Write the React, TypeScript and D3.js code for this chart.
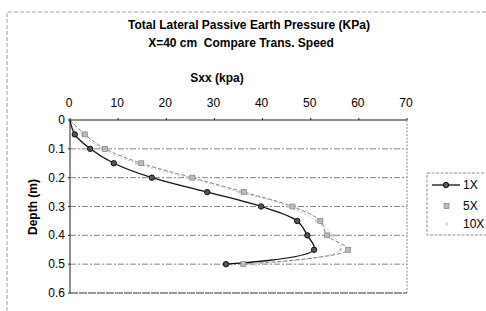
import * as d3 from 'd3';

const depths = [0, 0.05, 0.1, 0.15, 0.2, 0.25, 0.3, 0.35, 0.4, 0.45, 0.5];
const s1x = [0, 1.0, 4.2, 9.1, 17.0, 28.5, 39.7, 47.2, 49.3, 50.7, 32.4];
const s5x = [0, 3.1, 7.3, 14.8, 25.4, 36.1, 46.2, 52.0, 53.4, 57.8, 36.0];
const s10x = [0, 2.6, 6.6, 13.8, 24.6, 35.2, 45.4, 51.2, 54.6, 56.2, 38.5];
const xTicks = [0, 10, 20, 30, 40, 50, 60, 70];
const yTicks = [0, 0.1, 0.2, 0.3, 0.4, 0.5, 0.6];
const seriesNames = ['1X', '5X', '10X'];

const W = 486;
const H = 311;
const plot = { left: 70, right: 407, top: 120, bottom: 293 };

export default function App() {
  const x = d3.scaleLinear().domain([0, 70]).range([plot.left, plot.right]);
  const y = d3.scaleLinear().domain([0, 0.6]).range([plot.top, plot.bottom]);

  const line = d3.line<[number, number]>()
    .x(d => x(d[0]))
    .y(d => y(d[1]))
    .curve(d3.curveCatmullRom.alpha(0.5));

  const pts = (vals: number[]) => vals.map((v, i) => [v, depths[i]] as [number, number]);
  const font = '"Liberation Sans", Arial, sans-serif';

  return (
    <svg width={W} height={H} style={{ position: 'absolute', left: 0, top: 0, background: '#fff' }}
      fontFamily={font}>
      {/* outer chart frame */}
      <path d={`M7,${H} V12 H${W}`} fill="none" stroke="#888" strokeWidth={0.8} strokeDasharray="4 2" />

      <text x={249} y={29} textAnchor="middle" fontSize={12} fontWeight="bold">
        Total Lateral Passive Earth Pressure (KPa)
      </text>
      <text x={241} y={47} textAnchor="middle" fontSize={12} fontWeight="bold" xmlSpace="preserve">
        X=40 cm  Compare Trans. Speed
      </text>
      <text x={217} y={82} textAnchor="middle" fontSize={12} fontWeight="bold">Sxx (kpa)</text>
      <text transform="translate(37,207) rotate(-90)" textAnchor="middle" fontSize={12} fontWeight="bold">
        Depth (m)
      </text>

      {/* grid */}
      {yTicks.slice(1, -1).map(t => (
        <line key={t} x1={plot.left} x2={plot.right} y1={y(t)} y2={y(t)}
          stroke="#666" strokeWidth={0.8} strokeDasharray="6 2 2 2" />
      ))}
      <line x1={plot.right} x2={plot.right} y1={plot.top} y2={plot.bottom}
        stroke="#666" strokeWidth={0.8} strokeDasharray="2 1.5" />
      <line x1={plot.left} x2={plot.right} y1={plot.bottom} y2={plot.bottom}
        stroke="#333" strokeWidth={1} strokeDasharray="8 1" />

      {/* axes */}
      <line x1={plot.left} x2={plot.right} y1={plot.top} y2={plot.top} stroke="#222" strokeWidth={1} />
      <line x1={plot.left} x2={plot.left} y1={plot.top} y2={plot.bottom} stroke="#222" strokeWidth={1} />
      {xTicks.map(t => (
        <g key={t}>
          <line x1={x(t)} x2={x(t)} y1={plot.top} y2={plot.top - 2} stroke="#222" />
          <text x={x(t) - 1} y={107} textAnchor="middle" fontSize={12}>{t}</text>
        </g>
      ))}
      {yTicks.map(t => (
        <g key={t}>
          <line x1={plot.left} x2={plot.left - 2} y1={y(t)} y2={y(t)} stroke="#222" />
          <text x={plot.left - 5} y={y(t) + 4} textAnchor="end" fontSize={12}>{t}</text>
        </g>
      ))}

      {/* series */}
      <path d={line(pts(s10x)) || ''} fill="none" stroke="#bbb" strokeWidth={0.9} strokeDasharray="2 2" />
      <path d={line(pts(s5x)) || ''} fill="none" stroke="#777" strokeWidth={0.9} strokeDasharray="4 2" />
      <path d={line(pts(s1x)) || ''} fill="none" stroke="#111" strokeWidth={1.3} />

      {s10x.slice(1).map((v, i) => (
        <rect key={i} x={x(v) - 1.5} y={y(depths[i + 1]) - 1.5} width={3} height={3} fill="#ccc" />
      ))}
      {s5x.slice(1).map((v, i) => (
        <rect key={i} x={x(v) - 2.5} y={y(depths[i + 1]) - 2.5} width={5} height={5}
          fill="#bbb" stroke="#777" strokeWidth={0.6} />
      ))}
      {s1x.slice(1).map((v, i) => (
        <circle key={i} cx={x(v)} cy={y(depths[i + 1])} r={2.7} fill="#555" stroke="#111" strokeWidth={1} />
      ))}

      {/* legend */}
      <rect x={427} y={173} width={62} height={62} fill="none" stroke="#777" strokeWidth={0.8} strokeDasharray="3 1.5" />
      {seriesNames.map((name, i) => {
        const ly = [185, 206, 224][i];
        return (
          <g key={name}>
            {i === 0 && (
              <>
                <line x1={432} x2={460} y1={ly} y2={ly} stroke="#111" strokeWidth={1.3} />
                <circle cx={446} cy={ly} r={2.7} fill="#555" stroke="#111" />
              </>
            )}
            {i === 1 && <rect x={444} y={ly - 2.5} width={5} height={5} fill="#bbb" stroke="#777" strokeWidth={0.6} />}
            {i === 2 && <rect x={445} y={ly - 1.5} width={3} height={3} fill="#ddd" />}
            <text x={463} y={ly + 4} fontSize={12}>{name}</text>
          </g>
        );
      })}
    </svg>
  );
}
